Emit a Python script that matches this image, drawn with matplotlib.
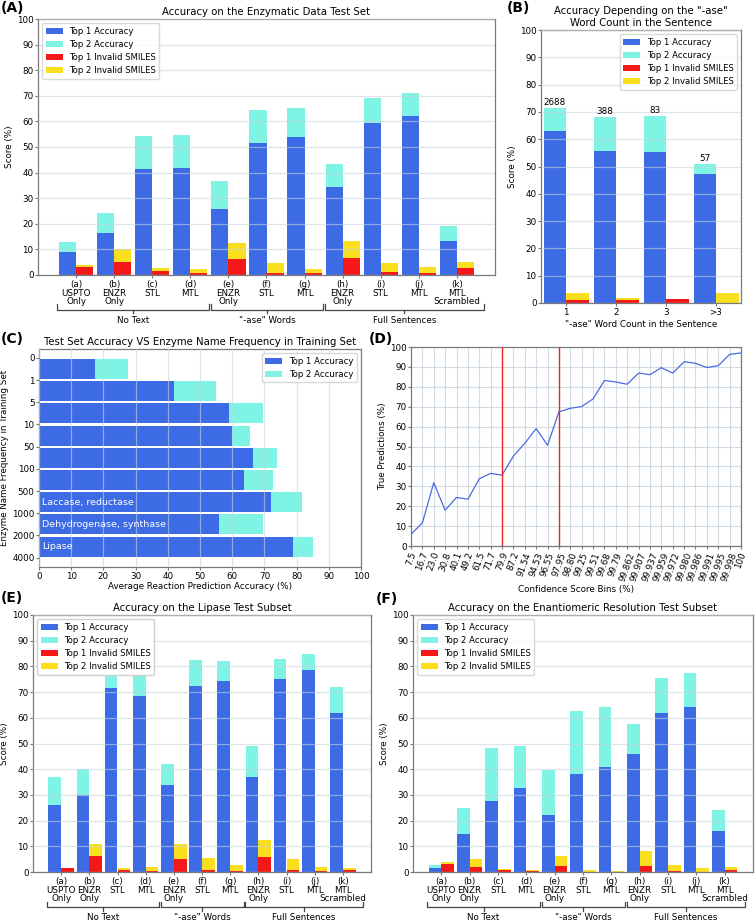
import matplotlib
matplotlib.use("Agg")
import matplotlib.pyplot as plt
import numpy as np

plt.rcParams['font.family'] = ['DejaVu Sans']
plt.rcParams['font.size'] = 6.3
plt.rcParams['axes.edgecolor'] = '#7a7a7a'
plt.rcParams['axes.linewidth'] = 0.9
plt.rcParams['xtick.color'] = '#7a7a7a'
plt.rcParams['ytick.color'] = '#7a7a7a'
plt.rcParams['xtick.labelcolor'] = 'black'
plt.rcParams['ytick.labelcolor'] = 'black'
plt.rcParams['xtick.major.size'] = 2
plt.rcParams['ytick.major.size'] = 2
plt.rcParams['xtick.major.pad'] = 1.5
plt.rcParams['ytick.major.pad'] = 1.2
plt.rcParams['axes.labelpad'] = 2
plt.rcParams['legend.fontsize'] = 6.1

TITLE_SIZE = 7.3
C_TOP1 = '#3d6be6'
C_TOP2 = '#7ff4e4'
C_INV1 = '#f51818'
C_INV2 = '#f9df1e'
C_GRID = '#c9d3df'

# ---- data -------------------------------------------------------------
model_labels = ['(a)\nUSPTO\nOnly', '(b)\nENZR\nOnly', '(c)\nSTL', '(d)\nMTL',
                '(e)\nENZR\nOnly', '(f)\nSTL', '(g)\nMTL', '(h)\nENZR\nOnly',
                '(i)\nSTL', '(j)\nMTL', '(k)\nMTL\nScrambled']
group_names = ['No Text', '"-ase" Words', 'Full Sentences']
group_members = [(0, 3), (4, 6), (7, 10)]

# (A) enzymatic data test set
enz_top1 = [9.1, 16.3, 41.3, 41.9, 25.8, 51.7, 54.0, 34.2, 59.5, 62.2, 13.2]
enz_top2 = [12.8, 24.1, 54.4, 54.7, 36.8, 64.3, 65.4, 43.4, 69.0, 71.1, 19.1]
enz_inv1 = [3.3, 5.2, 1.7, 0.9, 6.1, 0.8, 0.8, 6.5, 1.0, 0.7, 2.9]
enz_inv2 = [3.9, 10.0, 2.9, 2.3, 12.5, 4.7, 2.3, 13.4, 4.8, 3.3, 5.2]

# (B) by "-ase" word count
ase_counts = ['1', '2', '3', '>3']
ase_n = [2688, 388, 83, 57]
ase_top1 = [63.0, 55.5, 55.3, 47.3]
ase_top2 = [71.3, 68.0, 68.5, 50.9]
ase_inv1 = [1.0, 1.0, 1.3, 0.0]
ase_inv2 = [3.8, 1.8, 1.3, 3.5]

# (C) accuracy vs enzyme name frequency
freq_edges = ['0', '1', '5', '10', '50', '100', '500', '1000', '2000', '4000']
freq_top1 = [17.3, 41.9, 59.1, 59.8, 66.4, 63.8, 72.2, 55.8, 78.8]
freq_top2 = [27.5, 54.9, 69.6, 65.4, 73.8, 72.6, 81.7, 69.5, 85.1]
freq_names = ['', '', '', '', '', '', 'Laccase, reductase',
              'Dehydrogenase, synthase', 'Lipase']

# (D) true predictions vs confidence score bins
conf_bins = ['7.5', '16.7', '23.0', '30.8', '40.1', '49.2', '61.5', '71.7',
             '79.9', '87.2', '91.54', '94.53', '96.55', '97.95', '98.80',
             '99.25', '99.51', '99.68', '99.79', '99.862', '99.907', '99.937',
             '99.959', '99.972', '99.980', '99.986', '99.991', '99.995',
             '99.998', '100']
true_pred = [5.9, 11.6, 31.8, 18.0, 24.4, 23.5, 33.8, 36.5, 35.6, 45.2, 51.6,
             59.0, 50.6, 67.4, 69.2, 70.1, 73.9, 83.2, 82.4, 81.3, 86.9, 86.1,
             89.6, 86.9, 92.6, 91.8, 89.7, 90.6, 96.3, 97.0]
conf_marks = ['79.9', '97.95']

# (E) lipase test subset
lip_top1 = [26.1, 30.1, 71.5, 68.5, 33.7, 72.5, 74.4, 37.0, 75.1, 78.7, 61.7]
lip_top2 = [37.1, 40.1, 80.5, 80.0, 42.0, 82.5, 82.1, 49.2, 83.0, 84.7, 71.9]
lip_inv1 = [1.7, 6.2, 0.9, 0.3, 5.2, 0.6, 0.2, 5.8, 0.6, 0.2, 0.8]
lip_inv2 = [1.7, 10.9, 1.7, 1.9, 11.0, 5.6, 2.6, 12.3, 5.2, 2.1, 1.6]

# (F) enantiomeric resolution test subset
ena_top1 = [1.6, 14.7, 27.8, 32.6, 22.3, 38.1, 40.7, 45.9, 62.0, 64.1, 16.0]
ena_top2 = [2.9, 24.8, 48.4, 49.0, 39.8, 62.5, 64.3, 57.5, 75.6, 77.4, 24.3]
ena_inv1 = [3.2, 1.9, 0.8, 0.2, 2.5, 0.1, 0.1, 2.3, 0.3, 0.1, 0.8]
ena_inv2 = [3.8, 5.1, 1.3, 0.6, 6.2, 0.6, 0.5, 8.3, 2.6, 1.6, 2.1]


def px_axes(fig, x0, y0, x1, y1):
    W, H = fig.get_size_inches() * fig.dpi
    return fig.add_axes([x0 / W, 1 - y1 / H, (x1 - x0) / W, (y1 - y0) / H])


def score_bars(ax, labels, top1, top2, inv1, inv2, width=0.45):
    x = np.arange(len(labels))
    ax.bar(x - width / 2, top1, width, color=C_TOP1, label='Top 1 Accuracy', zorder=2)
    ax.bar(x - width / 2, top2, width, color=C_TOP2, label='Top 2 Accuracy', zorder=1)
    ax.bar(x + width / 2, inv1, width, color=C_INV1, label='Top 1 Invalid SMILES', zorder=2)
    ax.bar(x + width / 2, inv2, width, color=C_INV2, label='Top 2 Invalid SMILES', zorder=1)
    ax.set_xticks(x)
    ax.set_xticklabels(labels, linespacing=0.95)
    ax.set_ylim(0, 100)
    ax.set_yticks(np.arange(0, 101, 10))
    ax.set_ylabel('Score (%)')
    ax.set_axisbelow(False)
    ax.yaxis.grid(True, color=C_GRID, lw=0.9, alpha=0.6, zorder=3)
    return x


def brackets(ax, y=-0.135):
    # group brackets under the tick labels
    tr = ax.get_xaxis_transform()
    for k, ((a, b), name) in enumerate(zip(group_members, group_names)):
        lo = a - 0.5 + (0.04 if k else 0)
        hi = b + 0.5 - (0.02 if k < len(group_names) - 1 else -0.2)
        kw = dict(transform=tr, clip_on=False, color='#444444', lw=0.9)
        ax.plot([lo, lo, hi, hi], [y + 0.02, y, y, y + 0.02], **kw)
        mid = (lo + hi) / 2
        ax.plot([mid, mid], [y, y - 0.015], **kw)
        ax.text(mid, y - 0.024, name, transform=tr, ha='center', va='top')


fig = plt.figure(figsize=(7.56, 9.24), dpi=100)

# (A)
axA = px_axes(fig, 38, 19, 495, 275)
score_bars(axA, model_labels, enz_top1, enz_top2, enz_inv1, enz_inv2)
axA.set_xlim(-1, len(model_labels))
axA.set_title('Accuracy on the Enzymatic Data Test Set', fontsize=TITLE_SIZE, pad=3)
axA.legend(loc='upper left', edgecolor='#d0d0d0')
brackets(axA)

# (B)
axB = px_axes(fig, 541, 30, 741, 303)
xb = score_bars(axB, ase_counts, ase_top1, ase_top2, ase_inv1, ase_inv2)
axB.set_xlim(-0.5, len(ase_counts) - 0.5)
for xi, h, n in zip(xb, ase_top2, ase_n):
    axB.text(xi - 0.225, h + 0.5, str(n), ha='center', va='bottom')
axB.set_xlabel('"-ase" Word Count in the Sentence', labelpad=2)
axB.set_title('Accuracy Depending on the "-ase"\nWord Count in the Sentence',
              fontsize=TITLE_SIZE, pad=3)
axB.legend(loc='upper right', edgecolor='#d0d0d0')

# (C)
axC = px_axes(fig, 39, 349, 361, 567)
yc = np.arange(len(freq_top1)) + 0.5
axC.barh(yc, freq_top1, 0.9, color=C_TOP1, label='Top 1 Accuracy', zorder=2)
axC.barh(yc, freq_top2, 0.9, color=C_TOP2, label='Top 2 Accuracy', zorder=1)
for yi, name in zip(yc, freq_names):
    if name:
        axC.text(1, yi, name, color='white', va='center', ha='left', fontsize=6.8, zorder=4)
axC.set_yticks(np.arange(len(freq_edges)))
axC.set_yticklabels(freq_edges)
axC.set_ylim(len(freq_edges) - 0.58, -0.4)
axC.set_xlim(0, 100)
axC.set_xticks(np.arange(0, 101, 10))
axC.set_axisbelow(False)
axC.xaxis.grid(True, color=C_GRID, lw=0.9, alpha=0.6, zorder=3)
axC.set_xlabel('Average Reaction Prediction Accuracy (%)', labelpad=1)
axC.set_ylabel('Enzyme Name Frequency in Training Set', labelpad=2)
axC.set_title('Test Set Accuracy VS Enzyme Name Frequency in Training Set',
              fontsize=TITLE_SIZE, pad=3)
axC.legend(loc='upper right', edgecolor='#d0d0d0')

# (D)
axD = px_axes(fig, 411, 347, 741, 546)
xd = np.arange(len(conf_bins))
axD.plot(xd, true_pred, color='#4a6be0', lw=0.9, zorder=3)
for m in conf_marks:
    axD.axvline(conf_bins.index(m), color='#ee2222', lw=1.0, zorder=4)
axD.set_xlim(0, len(conf_bins) - 1)
axD.set_ylim(0, 100)
axD.set_yticks(np.arange(0, 101, 10))
axD.set_xticks(xd)
axD.set_xticklabels(conf_bins, rotation=70, ha='center')
axD.grid(True, color=C_GRID, lw=0.8, alpha=0.8)
axD.set_ylabel('True Predictions (%)', labelpad=2)
axD.set_xlabel('Confidence Score Bins (%)', labelpad=2)

# (E)
axE = px_axes(fig, 33, 615, 371, 872)
score_bars(axE, model_labels, lip_top1, lip_top2, lip_inv1, lip_inv2)
axE.set_xlim(-1, len(model_labels))
axE.set_title('Accuracy on the Lipase Test Subset', fontsize=TITLE_SIZE, pad=3)
axE.legend(loc='upper left', edgecolor='#d0d0d0', framealpha=1)
brackets(axE)

# (F)
axF = px_axes(fig, 413, 615, 753, 872)
score_bars(axF, model_labels, ena_top1, ena_top2, ena_inv1, ena_inv2)
axF.set_xlim(-1, len(model_labels))
axF.set_title('Accuracy on the Enantiomeric Resolution Test Subset',
              fontsize=TITLE_SIZE, pad=3)
axF.legend(loc='upper left', edgecolor='#d0d0d0')
brackets(axF)

# panel letters
W, H = 756, 924
for lab, (px, py) in {'(A)': (1, 1), '(B)': (507, 1), '(C)': (1, 332),
                      '(D)': (369, 332), '(E)': (1, 591), '(F)': (376, 592)}.items():
    fig.text(px / W, 1 - py / H, lab, fontsize=10, fontweight='bold', va='top', ha='left')

fig.savefig('out.png', dpi=100)
